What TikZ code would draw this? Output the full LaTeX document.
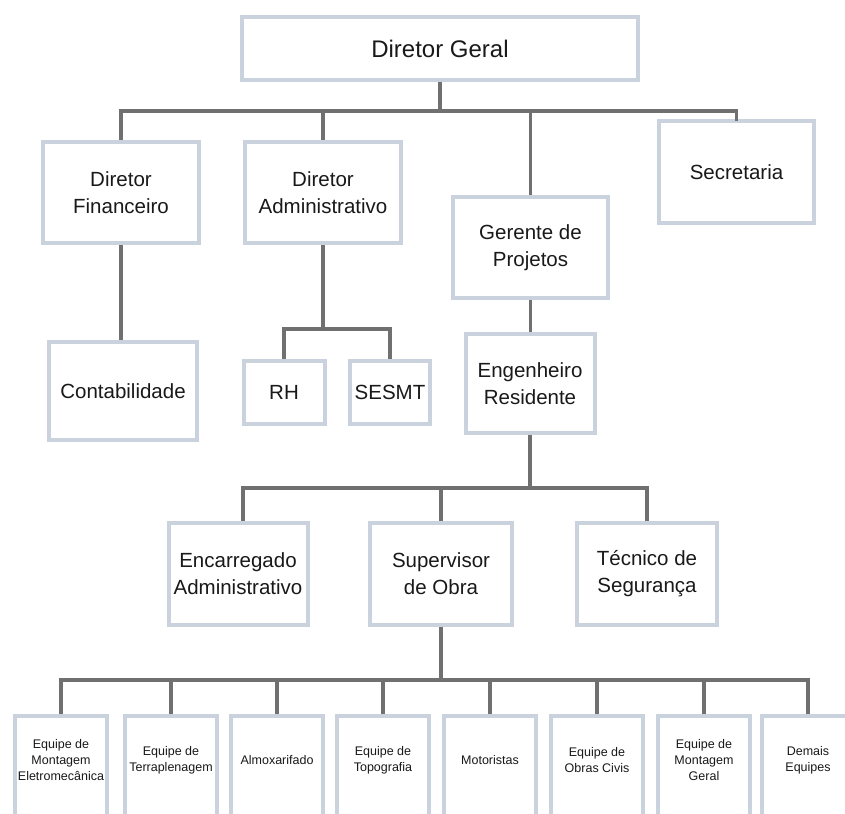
\documentclass[tikz,border=0pt]{standalone}
\usepackage{fontspec}
\setmainfont{Liberation Sans}
\definecolor{boxline}{HTML}{CAD2DE}
\definecolor{connline}{HTML}{707070}
\tikzset{
  orgbox/.style={draw=boxline, line width=4pt, fill=white, rectangle, align=center, inner sep=2pt, text=black!90},
  bigtxt/.style={font=\fontsize{24}{29}\selectfont},
  midtxt/.style={font=\fontsize{20.5}{27}\selectfont},
  smalltxt/.style={font=\fontsize{12.5}{15.7}\selectfont, align=center, text=black!90},
  conn/.style={draw=connline, line width=3.5pt},
}
\begin{document}
\begin{tikzpicture}[x=1pt, y=-1pt]
\clip (0,0) rectangle (845,813);
\useasboundingbox (0,0) rectangle (845,813);
\fill[white] (0,0) rectangle (845,813);

% connectors first (boxes drawn on top)
\coordinate (b1) at (440,111);
\coordinate (b2) at (323,329);
\coordinate (b3) at (530,488);
\coordinate (b4) at (441,680);

% nodes
\node[orgbox, bigtxt, minimum width=396pt, minimum height=63pt] (dg) at (440,48.5) {Diretor Geral};
\node[orgbox, midtxt, minimum width=156pt, minimum height=101pt] (df) at (121,192.5) {Diretor\\Financeiro};
\node[orgbox, midtxt, minimum width=156pt, minimum height=101pt] (da) at (323,192.5) {Diretor\\Administrativo};
\node[orgbox, midtxt, minimum width=155pt, minimum height=101pt] (gp) at (530.5,247.5) {Gerente de\\Projetos};
\node[orgbox, midtxt, minimum width=155pt, minimum height=102pt] (sec) at (736.5,172) {Secretaria};
\node[orgbox, midtxt, minimum width=148pt, minimum height=98pt] (cont) at (123,391) {Contabilidade};
\node[orgbox, midtxt, minimum width=81pt, minimum height=63pt] (rh) at (284,392.5) {RH};
\node[orgbox, midtxt, minimum width=80pt, minimum height=63pt] (sesmt) at (390,392.5) {SESMT};
\node[orgbox, midtxt, minimum width=129pt, minimum height=99pt] (eng) at (530,383.5) {Engenheiro\\Residente};
\node[orgbox, midtxt, minimum width=139pt, minimum height=102pt] (enc) at (238,574) {Encarregado\\Administrativo};
\node[orgbox, midtxt, minimum width=142pt, minimum height=102pt] (sup) at (441,574) {Supervisor\\de Obra};
\node[orgbox, midtxt, minimum width=140pt, minimum height=102pt] (tec) at (647,574) {Técnico de\\Segurança};

\foreach \n/\x in {e1/61, e2/171, e3/277, e4/383, e5/490, e6/597, e7/704, e8/808}{
  \node[orgbox, minimum width=92pt, minimum height=130pt, anchor=north] (\n) at (\x,714) {};
}
\node[smalltxt] (t1) at ([yshift=-46pt]e1.north) {Equipe de\\Montagem\\Eletromecânica};
\node[smalltxt] (t2) at ([yshift=-46pt]e2.north) {Equipe de\\Terraplenagem};
\node[smalltxt] (t3) at ([yshift=-46pt]e3.north) {Almoxarifado};
\node[smalltxt] (t4) at ([yshift=-46pt]e4.north) {Equipe de\\Topografia};
\node[smalltxt] (t5) at ([yshift=-46pt]e5.north) {Motoristas};
\node[smalltxt] (t6) at ([yshift=-46pt]e6.north) {Equipe de\\Obras Civis};
\node[smalltxt] (t7) at ([yshift=-46pt]e7.north) {Equipe de\\Montagem\\Geral};
\node[smalltxt] (t8) at ([yshift=-46pt]e8.north) {Demais\\Equipes};

% connectors
\begin{scope}[on background layer/.style={}]
\draw[conn] (dg.south) -- (b1);
\draw[conn] (df.north) -- (df.north |- b1) -- (sec.north |- b1) -- ([yshift=-2pt]sec.north);
\draw[conn] (da.north) -- (da.north |- b1);
\draw[conn] (gp.north) -- (gp.north |- b1);
\draw[conn] (df.south) -- (df.south |- cont.north);
\draw[conn] (da.south) -- (b2);
\draw[conn] (rh.north) -- (rh.north |- b2) -- (sesmt.north |- b2) -- (sesmt.north);
\draw[conn] (gp.south) -- (gp.south |- eng.north);
\draw[conn] (eng.south) -- (eng.south |- b3);
\draw[conn] ([xshift=5pt]enc.north) -- ([xshift=5pt]enc.north |- b3) -- (tec.north |- b3) -- (tec.north);
\draw[conn] (sup.north) -- (sup.north |- b3);
\draw[conn] (sup.south) -- (b4);
\draw[conn] (e1.north) -- (e1.north |- b4) -- (e8.north |- b4) -- (e8.north);
\foreach \n in {e2,e3,e4,e5,e6,e7}{
  \draw[conn] (\n.north) -- (\n.north |- b4);
}
\end{scope}
\end{tikzpicture}
\end{document}
